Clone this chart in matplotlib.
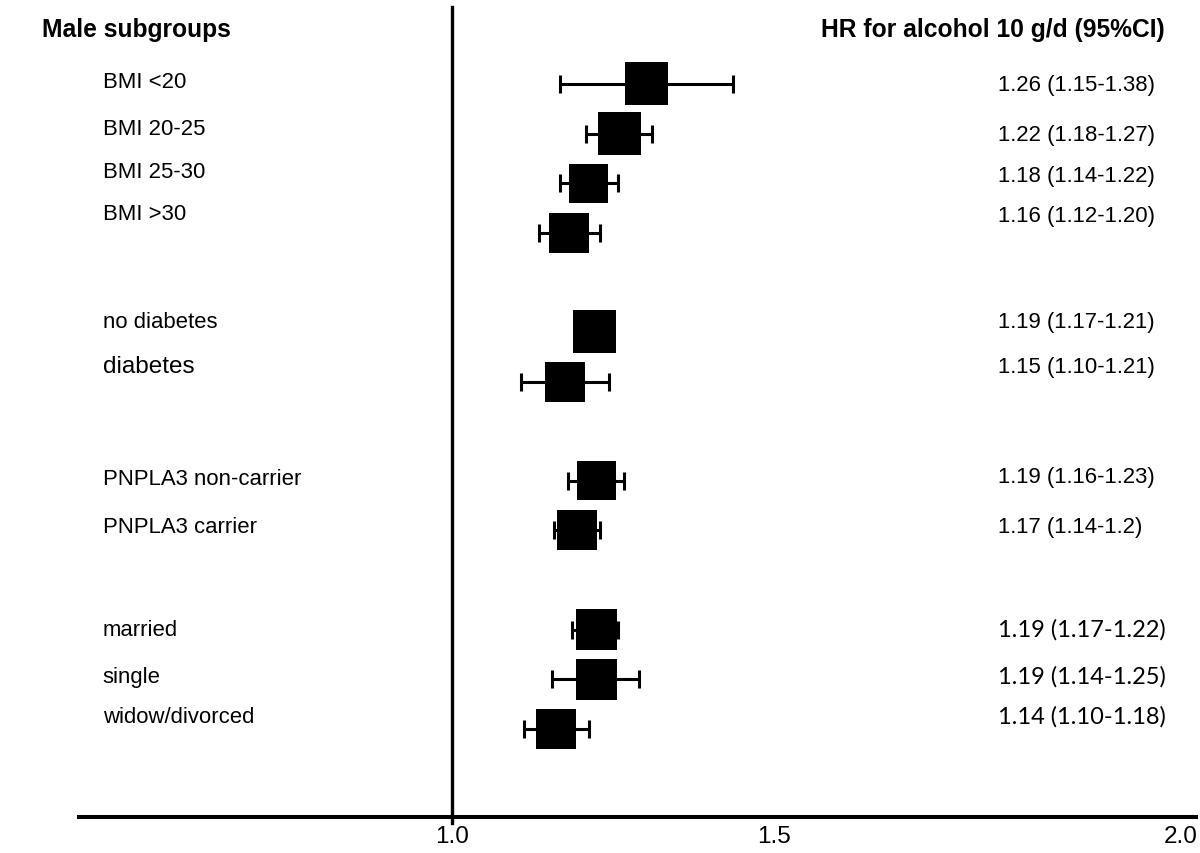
import numpy as np
import matplotlib.pyplot as plt

plt.rcParams['font.family'] = ['Liberation Sans', 'DejaVu Sans']

# subgroup labels, left column
labels = ['BMI <20', 'BMI 20-25', 'BMI 25-30', 'BMI >30',
          'no diabetes', 'diabetes',
          'PNPLA3 non-carrier', 'PNPLA3 carrier',
          'married', 'single', 'widow/divorced']

# printed HR (95%CI), right column
hr_text = ['1.26 (1.15-1.38)', '1.22 (1.18-1.27)', '1.18 (1.14-1.22)', '1.16 (1.12-1.20)',
           '1.19 (1.17-1.21)', '1.15 (1.10-1.21)',
           '1.19 (1.16-1.23)', '1.17 (1.14-1.2)',
           '1.19 (1.17-1.22)', '1.19 (1.14-1.25)', '1.14 (1.10-1.18)']

# values as drawn on the plot
hr = [1.266, 1.229, 1.187, 1.160, 1.195, 1.154, 1.198, 1.171, 1.197, 1.197, 1.142]
ci_lo = [1.148, 1.183, 1.148, 1.119, 1.175, 1.094, 1.159, 1.139, 1.164, 1.137, 1.098]
ci_hi = [1.385, 1.274, 1.227, 1.202, 1.210, 1.215, 1.235, 1.202, 1.227, 1.256, 1.187]

tick_vals = [1.0, 1.442, 2.0]   # the "1.5" label sits left of the true 1.5 in the original
tick_text = ['1.0', '1.5', '2.0']

# layout (row units, one row = one marker step)
rows = [0, 1, 2, 3, 5, 6, 8, 9, 11, 12, 13]
label_rows = [-0.04, 0.89, 1.77, 2.62, 4.78, 5.69, 7.96, 8.93, 10.99, 11.94, 12.76]
value_rows = [0.02, 1.01, 1.85, 2.66, 4.78, 5.69, 7.92, 8.93, 10.99, 11.94, 12.74]
box_px = [43, 43, 39, 40, 43, 40, 39, 40, 41, 41, 40]

W, H = 1200, 854
fig = plt.figure(figsize=(W / 100, H / 100), dpi=100)
ax = fig.add_axes([79 / W, 36 / H, (1196 - 79) / W, 810 / H])
ax.set_xlim(0.4873, 2.0206)
ax.set_ylim(14.78, -1.552)

for s in ['left', 'top', 'right']:
    ax.spines[s].set_visible(False)
ax.spines['bottom'].set_linewidth(2.9)
ax.set_yticks([])
ax.set_xticks(tick_vals, tick_text)
ax.tick_params(axis='x', length=0, pad=6, labelsize=17.5)

ax.axvline(1.0, ymin=-0.008, ymax=1, color='black', lw=2.4, clip_on=False)

err = np.array([np.array(hr) - np.array(ci_lo), np.array(ci_hi) - np.array(hr)])
ax.errorbar(hr, rows, xerr=err, fmt='none', ecolor='black', elinewidth=2.2,
            capsize=6.5, capthick=2.2, zorder=2)
ax.scatter(hr, rows, marker='s', s=(np.array(box_px) * 0.72) ** 2,
           color='black', linewidths=0, zorder=3)

for i, lab in enumerate(labels):
    fs = 17.5 if lab == 'diabetes' else 15.9
    ax.text(0.520, label_rows[i], lab, fontsize=fs, va='center', ha='left')

for i, txt in enumerate(hr_text):
    if i >= 8:
        ax.text(1.749, value_rows[i], txt, fontsize=17, va='center', ha='left',
                family=['Lato', 'DejaVu Sans'])
    else:
        ax.text(1.749, value_rows[i], txt, fontsize=15.9, va='center', ha='left')

fig.text(42 / W, 1 - 30 / H, 'Male subgroups', fontsize=17.7, fontweight='bold',
         va='center', ha='left')
fig.text(1165 / W, 1 - 30 / H, 'HR for alcohol 10 g/d (95%CI)', fontsize=17.7,
         fontweight='bold', va='center', ha='right')

fig.savefig('out.png', dpi=100)
